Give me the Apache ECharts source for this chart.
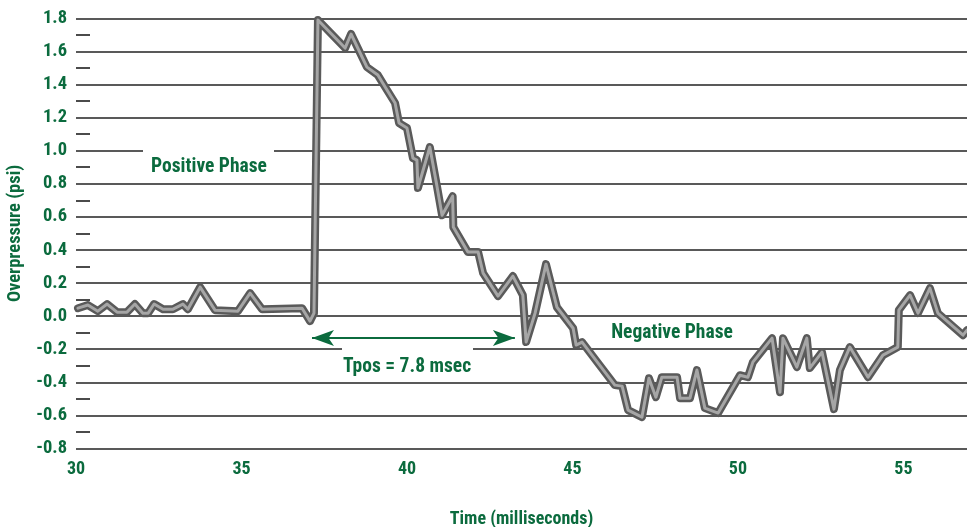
<!DOCTYPE html>
<html>
<head>
<meta charset="utf-8">
<script src="https://cdn.jsdelivr.net/npm/echarts@6/dist/echarts.min.js"></script>
<style>
html,body{margin:0;padding:0;background:#fff;}
#chart{width:967px;height:527px;}
</style>
</head>
<body>
<div id="chart"></div>
<script>
// Time in milliseconds
var timeMs = [30.06,30.36,30.66,30.94,31.24,31.54,31.78,32.02,32.18,32.36,32.63,32.93,33.23,33.38,33.75,34.20,34.89,35.26,35.62,36.83,37.07,37.19,37.31,38.13,38.31,38.79,39.12,39.34,39.64,39.76,40.00,40.18,40.30,40.33,40.69,40.91,41.06,41.38,41.40,41.84,42.15,42.30,42.75,43.20,43.50,43.60,43.87,44.20,44.53,45.02,45.11,45.29,46.28,46.50,46.68,47.10,47.31,47.52,47.70,48.16,48.25,48.55,48.76,49.00,49.40,50.06,50.30,50.45,51.03,51.27,51.36,51.78,52.08,52.17,52.54,52.90,53.08,53.38,53.93,54.38,54.83,54.86,55.20,55.44,55.80,56.04,56.80,56.92];
// Overpressure in psi
var overpressure = [0.048,0.067,0.030,0.073,0.024,0.024,0.073,0.018,0.018,0.073,0.042,0.042,0.073,0.042,0.175,0.036,0.030,0.139,0.042,0.048,-0.030,0.018,1.79,1.62,1.705,1.505,1.457,1.385,1.288,1.167,1.137,0.955,0.943,0.774,1.022,0.78,0.61,0.725,0.538,0.387,0.387,0.26,0.121,0.242,0.127,-0.157,0.018,0.314,0.054,-0.073,-0.175,-0.157,-0.417,-0.423,-0.568,-0.61,-0.375,-0.49,-0.369,-0.369,-0.496,-0.496,-0.326,-0.556,-0.586,-0.357,-0.369,-0.278,-0.133,-0.46,-0.133,-0.308,-0.133,-0.314,-0.218,-0.562,-0.326,-0.187,-0.369,-0.236,-0.187,0.036,0.127,0.018,0.169,0.018,-0.115,-0.085];
// Tpos arrow span (time, pressure level)
var tposStart = [37.13, -0.132];
var tposEnd = [43.26, -0.132];
var labelTexts = ['Positive Phase', 'Tpos = 7.8 msec', 'Negative Phase'];

var GREEN = '#0b6b3e';
var FONT = '"Roboto Condensed", "Open Sans Condensed", "Liberation Sans", sans-serif';

var seriesData = timeMs.map(function (t, i) { return [t, overpressure[i]]; });

var chart = echarts.init(document.getElementById('chart'), null, {renderer: 'canvas'});
chart.setOption({
  animation: false,
  backgroundColor: '#fff',
  grid: {left: 76, right: 0, top: 18.3, bottom: 78.5, containLabel: false, outerBoundsMode: 'none'},
  xAxis: {
    type: 'value', min: 30, max: 56.92, interval: 5,
    axisLine: {show: false}, axisTick: {show: false}, splitLine: {show: false},
    axisLabel: {color: GREEN, fontFamily: FONT, fontWeight: 'bold', fontSize: 18, lineHeight: 18, margin: 12,
      showMaxLabel: false},
    name: 'Time (milliseconds)', nameLocation: 'middle', nameGap: 62,
    nameTextStyle: {color: GREEN, fontFamily: FONT, fontWeight: 'bold', fontSize: 18}
  },
  yAxis: {
    type: 'value', min: -0.8, max: 1.8, interval: 0.2,
    axisLine: {show: false},
    axisTick: {show: false, inside: true},
    minorTick: {show: true, splitNumber: 2, length: 14, lineStyle: {color: '#111', width: 1.5}},
    splitLine: {show: true, lineStyle: {color: '#222', width: 1.6}},
    axisLabel: {color: GREEN, fontFamily: FONT, fontWeight: 'bold', fontSize: 18.5, margin: 9,
      formatter: function (v) { return v.toFixed(1); }},
    name: 'Overpressure (psi)', nameLocation: 'middle', nameGap: 50, nameRotate: 90,
    nameTextStyle: {color: GREEN, fontFamily: FONT, fontWeight: 'bold', fontSize: 18.5}
  },
  graphic: [
    {type: 'rect', z: 5, shape: {x: 143, y: 149, width: 131, height: 31}, style: {fill: '#fff'}},
    {type: 'rect', z: 5, shape: {x: 342, y: 347.5, width: 131, height: 32}, style: {fill: '#fff'}},
    {type: 'text', z: 6, x: 209, y: 167, style: {text: labelTexts[0], fill: GREEN, font: 'bold 19.5px ' + FONT, align: 'center', verticalAlign: 'middle'}},
    {type: 'text', z: 6, x: 407, y: 367, style: {text: labelTexts[1], fill: GREEN, font: 'bold 19.5px ' + FONT, align: 'center', verticalAlign: 'middle'}},
    {type: 'text', z: 6, x: 672, y: 333, style: {text: labelTexts[2], fill: GREEN, font: 'bold 19.5px ' + FONT, align: 'center', verticalAlign: 'middle'}}
  ],
  series: [
    {
      type: 'line', data: seriesData, symbol: 'none', clip: false, z: 3,
      lineStyle: {color: '#5a5a5a', width: 8, join: 'round', cap: 'round'}
    },
    {
      type: 'line', data: seriesData, symbol: 'none', clip: false, z: 4,
      lineStyle: {color: '#a6a6a6', width: 3, join: 'round', cap: 'round'},
      markLine: {
        silent: true, animation: false,
        symbol: ['arrow', 'arrow'], symbolSize: [12, 22],
        lineStyle: {color: GREEN, width: 2, type: 'solid'},
        label: {show: false},
        data: [[{coord: tposStart}, {coord: tposEnd}]]
      }
    }
  ]
});
</script>
</body>
</html>
